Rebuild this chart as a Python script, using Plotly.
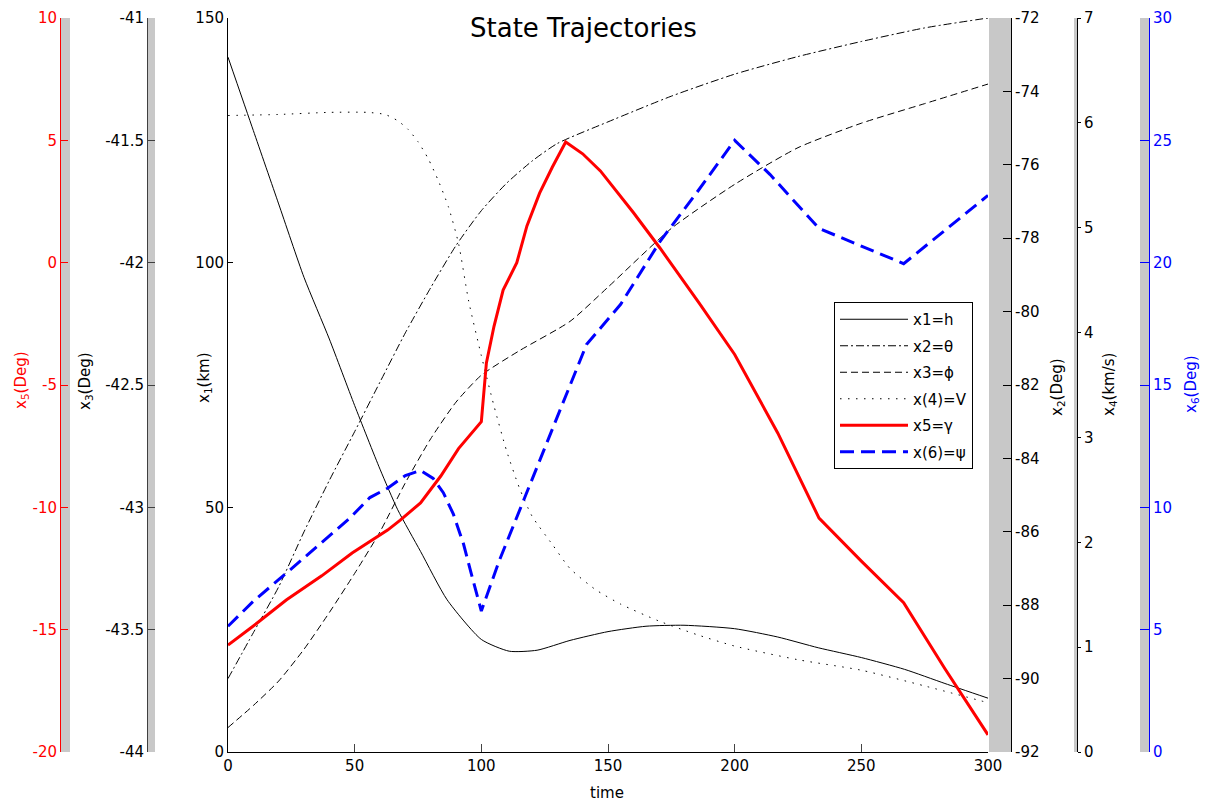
import plotly.graph_objects as go

# ---- state trajectories -------------------------------------------------
t_h = [0, 10, 20, 30, 40, 50, 60, 67, 76, 86.5, 100, 111, 122, 135, 150, 165,
       180, 200, 217, 233, 250, 267, 283, 300]
x1_h = [142, 127, 112, 97, 84.4, 70.8, 57.8, 49.5, 41, 31.1, 23, 20.6, 20.8,
        22.8, 24.6, 25.7, 25.9, 25.2, 23.5, 21.3, 19.3, 16.9, 14.0, 11.0]

t_theta = [0, 10, 20, 30, 40, 50, 60, 70, 80, 90, 100, 110, 120, 130, 150,
           175, 200, 225, 250, 275, 300]
x2_theta = [-90.0, -88.75, -87.5, -86.0, -84.6, -83.27, -81.92, -80.58, -79.35,
            -78.2, -77.25, -76.5, -75.9, -75.42, -74.83, -74.13, -73.53,
            -73.05, -72.64, -72.27, -72.0]

t_phi = [0, 10, 20, 30, 40, 50, 60, 70, 80, 90, 100, 115, 135, 150, 175, 200,
         225, 250, 275, 300]
x3_phi = [-43.9, -43.81, -43.71, -43.58, -43.43, -43.27, -43.1, -42.9, -42.72,
          -42.57, -42.46, -42.36, -42.24, -42.1, -41.86, -41.68, -41.53,
          -41.43, -41.35, -41.27]

t_v = [0, 20, 40, 55, 62, 67, 71, 75, 79, 83, 87, 91, 95, 100, 105, 110, 115,
       120, 128, 135, 145, 155, 170, 185, 200, 225, 250, 275, 300]
x4_v = [6.07, 6.08, 6.10, 6.10, 6.08, 6.02, 5.94, 5.82, 5.66, 5.45, 5.2, 4.85,
        4.3, 3.78, 3.3, 2.87, 2.52, 2.25, 1.98, 1.75, 1.55, 1.41, 1.25, 1.12,
        1.01, 0.88, 0.78, 0.63, 0.47]

t_gamma = [0, 10, 23, 37, 49, 63, 68, 76, 84, 91, 100, 102, 105, 108.6, 114,
           118, 123, 128, 133.3, 140, 147, 155, 160, 170.5, 186, 200, 217,
           233.3, 250, 266.7, 283, 300]
x5_gamma = [-15.63, -14.85, -13.79, -12.8, -11.87, -10.93, -10.52, -9.82,
            -8.72, -7.6, -6.5, -4.1, -2.6, -1.12, 0.0, 1.5, 2.84, 3.9, 4.93,
            4.45, 3.75, 2.72, 2.05, 0.6, -1.65, -3.75, -6.96, -10.44, -12.2,
            -13.9, -16.6, -19.3]

t_psi = [0, 10, 23, 36, 48, 56, 63, 70, 76, 81, 85, 89, 93, 96, 100, 107,
         116.5, 128, 141.5, 155, 170.5, 186, 200, 214, 233.3, 250, 266.7, 283,
         300]
x6_psi = [5.14, 6.16, 7.31, 8.49, 9.55, 10.4, 10.78, 11.3, 11.51, 11.18, 10.6,
          9.71, 8.49, 7.3, 5.76, 7.8, 10.24, 13.22, 16.65, 18.3, 20.86, 23.0,
          25.0, 23.6, 21.4, 20.68, 19.96, 21.32, 22.75]

# ---- axis ticks -----------------------------------------------------------
time_ticks = [0, 50, 100, 150, 200, 250, 300]
x1_ticks = [0, 50, 100, 150]
x2_ticks = [-92, -90, -88, -86, -84, -82, -80, -78, -76, -74, -72]
x3_ticks = [-44, -43.5, -43, -42.5, -42, -41.5, -41]
x4_ticks = [0, 1, 2, 3, 4, 5, 6, 7]
x5_ticks = [-20, -15, -10, -5, 0, 5, 10]
x6_ticks = [0, 5, 10, 15, 20, 25, 30]


def labels(vals):
    return [("%g" % v) for v in vals]


W, H = 1208, 807
FONT = "DejaVu Sans"
RED = "#ff0000"
BLUE = "#0000ff"
GRAY = "#c8c8c8"

# pixel geometry of the plot area
PL, PR, PT, PB = 228, 988, 18, 752


def px(x):
    return x / W


def py(y):
    return 1 - y / H


fig = go.Figure()

smooth = dict(shape="spline", smoothing=0.6)
fig.add_trace(go.Scatter(x=t_h, y=x1_h, name="x1=h", yaxis="y", legendgroup="a",
                         line=dict(color="black", width=1, **smooth)))
fig.add_trace(go.Scatter(x=t_theta, y=x2_theta, name="x2=θ", yaxis="y2", legendgroup="b",
                         line=dict(color="black", width=1, dash="8px,3px,2px,3px", **smooth)))
fig.add_trace(go.Scatter(x=t_phi, y=x3_phi, name="x3=ϕ", yaxis="y3", legendgroup="c",
                         line=dict(color="black", width=1, dash="7px,4px", **smooth)))
fig.add_trace(go.Scatter(x=t_v, y=x4_v, name="x(4)=V", yaxis="y4", legendgroup="d",
                         line=dict(color="black", width=1, dash="1.5px,6.5px", **smooth)))
fig.add_trace(go.Scatter(x=t_gamma, y=x5_gamma, name="x5=γ", yaxis="y5", legendgroup="e",
                         line=dict(color=RED, width=3)))
fig.add_trace(go.Scatter(x=t_psi, y=x6_psi, name="x(6)=ψ", yaxis="y6", legendgroup="f",
                         line=dict(color=BLUE, width=3, dash="14px,7px")))

tickfont = dict(family=FONT, size=15, color="black")
ydom = [py(PB), py(PT)]


def yax(rng, tv, color="black", labelcolor=None, **kw):
    d = dict(range=rng, tickmode="array", tickvals=tv, ticktext=labels(tv),
             showline=True, linecolor=color, linewidth=1, tickcolor=color,
             tickfont=dict(family=FONT, size=15, color=labelcolor or color),
             showgrid=False, zeroline=False, fixedrange=True, automargin=False)
    d.update(kw)
    return d


fig.update_layout(
    width=W, height=H,
    margin=dict(l=0, r=0, t=0, b=0, autoexpand=False),
    paper_bgcolor="white", plot_bgcolor="rgba(0,0,0,0)",
    showlegend=True,
    xaxis=dict(domain=[px(PL), px(PR)], range=[0, 300], tickmode="array",
               tickvals=time_ticks, ticktext=labels(time_ticks),
               ticks="inside", ticklen=8, showline=True, linecolor="black",
               linewidth=1, tickfont=tickfont, showgrid=False, zeroline=False,
               fixedrange=True, automargin=False),
    yaxis=yax([0, 150], x1_ticks, domain=ydom, ticks="inside", ticklen=5),
    yaxis2=yax([-92, -72], x2_ticks, overlaying="y", anchor="free",
               position=px(1011), side="right", ticks="inside", ticklen=8),
    yaxis3=yax([-44, -41], x3_ticks, color="#404040", labelcolor="black",
               overlaying="y", anchor="free",
               position=px(147), side="left", ticks="inside", ticklen=7),
    yaxis4=yax([0, 7], x4_ticks, overlaying="y", anchor="free",
               position=px(1077), side="right", ticks="outside", ticklen=3),
    yaxis5=yax([-20, 10], x5_ticks, color=RED, overlaying="y", anchor="free",
               position=px(60), side="left", ticks="inside", ticklen=7),
    yaxis6=yax([0, 30], x6_ticks, color=BLUE, overlaying="y", anchor="free",
               position=px(1149), side="right", ticks="inside", ticklen=9),
    legend=dict(x=px(834), y=py(302), xanchor="left", yanchor="top",
                bgcolor="white", bordercolor="black", borderwidth=1,
                font=dict(family=FONT, size=15, color="black"),
                traceorder="grouped", tracegroupgap=4, itemwidth=68),
)

# gray bands next to each vertical axis
for x0, x1 in [(60, 70), (147, 155), (989, 1011), (1074, 1077), (1140, 1149)]:
    fig.add_shape(type="rect", xref="paper", yref="paper", layer="below",
                  x0=px(x0), x1=px(x1), y0=py(PB), y1=py(PT),
                  fillcolor=GRAY, line=dict(width=0))

# title and axis captions
notes = [
    ("State Trajectories", 583, 28, 0, 26, "black"),
    ("time", 607, 793, 0, 15, "black"),
    ("x<sub>5</sub>(Deg)", 21, 380, -90, 15, RED),
    ("x<sub>3</sub>(Deg)", 85, 381, -90, 15, "black"),
    ("x<sub>1</sub>(km)", 205, 378, -90, 15, "black"),
    ("x<sub>2</sub>(Deg)", 1057, 387, -90, 15, "black"),
    ("x<sub>4</sub>(km/s)", 1109, 385, -90, 15, "black"),
    ("x<sub>6</sub>(Deg)", 1191, 384, -90, 15, BLUE),
]
for text, x, y, ang, size, col in notes:
    fig.add_annotation(text=text, xref="paper", yref="paper", x=px(x), y=py(y),
                       xanchor="center", yanchor="middle", textangle=ang,
                       showarrow=False, font=dict(family=FONT, size=size, color=col))

fig.write_html("out.html")
